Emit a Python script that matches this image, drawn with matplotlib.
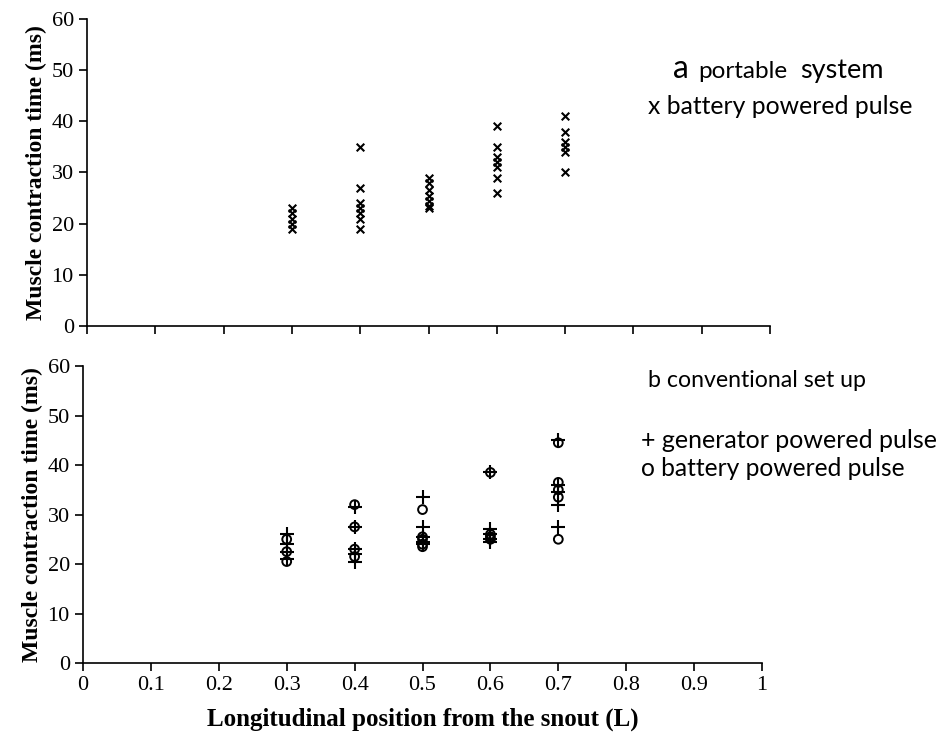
import numpy as np
import matplotlib.pyplot as plt

# panel a: portable system, battery powered pulse
pos_a = [0.3, 0.4, 0.5, 0.6, 0.7]
time_a = [
    [23, 22, 21, 20, 19],
    [35, 27, 24, 23, 22, 21, 19],
    [29, 28, 26.5, 25.5, 24.5, 23.5, 23],
    [39, 35, 33, 32, 31, 29, 26],
    [41, 38, 36, 35, 34, 30],
]

# panel b: conventional set up
pos_b = [0.3, 0.4, 0.5, 0.6, 0.7]
time_gen = [
    [26, 24, 22.5, 21],
    [31.5, 27.5, 23, 22, 20.5],
    [33.5, 27.5, 25.5, 24.5, 24],
    [38.5, 27, 26, 25, 24.5],
    [45, 36, 34.5, 32, 27.5],
]
time_bat = [
    [25, 22.5, 20.5],
    [32, 27.5, 23, 21.5],
    [31, 25.5, 25, 24, 23.5],
    [38.5, 26, 25.5, 25],
    [44.5, 36.5, 35, 33.5, 25],
]

xticks = np.round(np.arange(0, 1.01, 0.1), 1)
xticklabels = ["0", "0.1", "0.2", "0.3", "0.4", "0.5", "0.6", "0.7", "0.8", "0.9", "1"]
yticks = [0, 10, 20, 30, 40, 50, 60]


def flatten(xs, groups):
    x = []
    y = []
    for xi, g in zip(xs, groups):
        x += [xi] * len(g)
        y += g
    return x, y


def style_axes(ax, show_xlabels):
    ax.set_xlim(0, 1)
    ax.set_ylim(0, 60)
    ax.set_xticks(xticks)
    ax.set_yticks(yticks)
    ax.spines["top"].set_visible(False)
    ax.spines["right"].set_visible(False)
    ax.spines["left"].set_linewidth(1.2)
    ax.spines["bottom"].set_linewidth(1.2)
    ax.tick_params(direction="out", length=6, width=1.2, labelsize=16)
    for lab in ax.get_yticklabels():
        lab.set_fontfamily("Liberation Serif")
    if show_xlabels:
        ax.set_xticklabels(xticklabels, fontfamily="Liberation Serif", fontsize=16)
    else:
        ax.set_xticklabels([])
    ax.set_ylabel("Muscle contraction time (ms)", fontfamily="Liberation Serif",
                  fontweight="bold", fontsize=17, labelpad=3)


fig = plt.figure(figsize=(9.41, 7.39), dpi=100)
ax1 = fig.add_axes([0.0925, 0.5589, 0.7258, 0.4154])
ax2 = fig.add_axes([0.0882, 0.1028, 0.7216, 0.4019])

xa, ya = flatten(pos_a, time_a)
ax1.scatter(xa, ya, marker="x", s=30, color="black", linewidths=1.5, clip_on=False)
style_axes(ax1, False)

xg, yg = flatten(pos_b, time_gen)
xb, yb = flatten(pos_b, time_bat)
ax2.scatter(xb, yb, marker="o", s=40, facecolors="none", edgecolors="black",
            linewidths=1.4, clip_on=False)
ax2.scatter(xg, yg, marker="+", s=110, color="black", linewidths=1.5, clip_on=False)
style_axes(ax2, True)
ax2.set_xlabel("Longitudinal position from the snout (L)", fontfamily="Liberation Serif",
               fontweight="bold", fontsize=18, labelpad=9)

sans = "Lato"
W, H = 941, 739
fig.text(673 / W, 1 - 78 / H, "a", fontfamily=sans, fontsize=23, va="baseline")
fig.text(698 / W, 1 - 78 / H, "portable", fontfamily=sans, fontsize=17.5, va="baseline")
fig.text(800 / W, 1 - 78 / H, "system", fontfamily=sans, fontsize=19.5, va="baseline")
fig.text(648 / W, 1 - 114 / H, "x battery powered pulse", fontfamily=sans,
         fontsize=17.8, va="baseline")
fig.text(648 / W, 1 - 387 / H, "b conventional set up", fontfamily=sans,
         fontsize=16.7, va="baseline")
fig.text(641 / W, 1 - 448 / H, "+ generator powered pulse", fontfamily=sans,
         fontsize=18, va="baseline")
fig.text(641 / W, 1 - 476 / H, "o battery powered pulse", fontfamily=sans,
         fontsize=17.7, va="baseline")

fig.savefig("out.png", dpi=100)
